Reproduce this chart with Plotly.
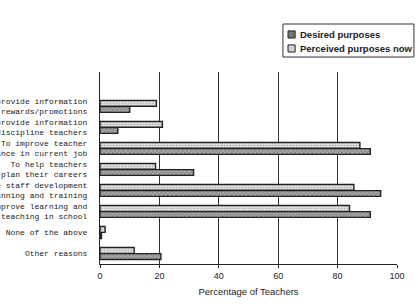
import plotly.graph_objects as go

categories = [
    "To provide information<br>for rewards/promotions",
    "To provide information<br>to discipline teachers",
    "To improve teacher<br>performance in current job",
    "To help teachers<br>plan their careers",
    "To guide staff development<br>planning and training",
    "To improve learning and<br>teaching in school",
    "None of the above",
    "Other reasons",
]
desired = [10, 6, 91, 31.5, 94.5, 91, 0.5, 20.5]
perceived = [19, 21, 87.5, 18.7, 85.5, 84, 1.7, 11.5]
x_ticks = [0, 20, 40, 60, 80, 100]
legend_labels = ["Desired purposes", "Perceived purposes now"]

desired_style = dict(color="#888", line=dict(color="#222", width=1.4),
                     pattern=dict(shape="x", fgcolor="#444", bgcolor="#a8a8a8", size=3, solidity=0.4))
perceived_style = dict(color="#d4d4d4", line=dict(color="#222", width=1.4),
                       pattern=dict(shape=".", fgcolor="#888", bgcolor="#e6e6e6", size=3, solidity=0.4))

fig = go.Figure()
fig.add_trace(go.Bar(name=legend_labels[1], y=categories, x=perceived, orientation="h",
                     marker=perceived_style, showlegend=False))
fig.add_trace(go.Bar(name=legend_labels[0], y=categories, x=desired, orientation="h",
                     marker=desired_style, showlegend=False))

# legend drawn as box + swatches + text (paper coordinates)
fig.add_shape(type="rect", xref="paper", yref="paper", x0=0.616, x1=1.057, y0=1.078, y1=1.25,
              line=dict(color="#333", width=1), fillcolor="white", layer="above")
sw = [(1.177, 1.214, "#777", legend_labels[0], 1.195), (1.104, 1.141, "#d0d0d0", legend_labels[1], 1.122)]
for y0, y1, col, lab, ty in sw:
    fig.add_shape(type="rect", xref="paper", yref="paper", x0=0.633, x1=0.657, y0=y0, y1=y1,
                  line=dict(color="#222", width=1), fillcolor=col, layer="above")
    fig.add_annotation(xref="paper", yref="paper", x=0.668, y=ty, xanchor="left", yanchor="middle",
                       text=lab, showarrow=False,
                       font=dict(family="Liberation Sans", size=9.5, color="#222", weight="bold"))

fig.update_layout(
    width=418, height=304,
    margin=dict(l=100, r=21, t=72, b=40, autoexpand=False),
    paper_bgcolor="white", plot_bgcolor="white",
    barmode="group", bargap=0.42, bargroupgap=0.05,
    showlegend=False,
    font=dict(family="Liberation Sans", color="#222"),
)
fig.update_xaxes(
    range=[0, 100], tickvals=x_ticks, ticktext=[str(v) for v in x_ticks],
    showgrid=True, gridcolor="#333", gridwidth=1,
    showline=True, linecolor="#222", linewidth=1.2,
    ticks="outside", ticklen=3, tickcolor="#222",
    tickfont=dict(family="Liberation Sans", size=9, color="#222"),
    title=dict(text="Percentage of Teachers", font=dict(family="Liberation Sans", size=9.5, color="#222"), standoff=8),
    zeroline=False, automargin=False,
)
fig.update_yaxes(
    type="category", categoryorder="array", categoryarray=categories,
    range=[7.5, -1.64],
    showgrid=False, showline=True, linecolor="#222", linewidth=1.2,
    ticks="", ticklabelstandoff=10,
    tickfont=dict(family="Liberation Mono", size=8, color="#222"),
    automargin=False,
)

fig.write_html("out.html")
